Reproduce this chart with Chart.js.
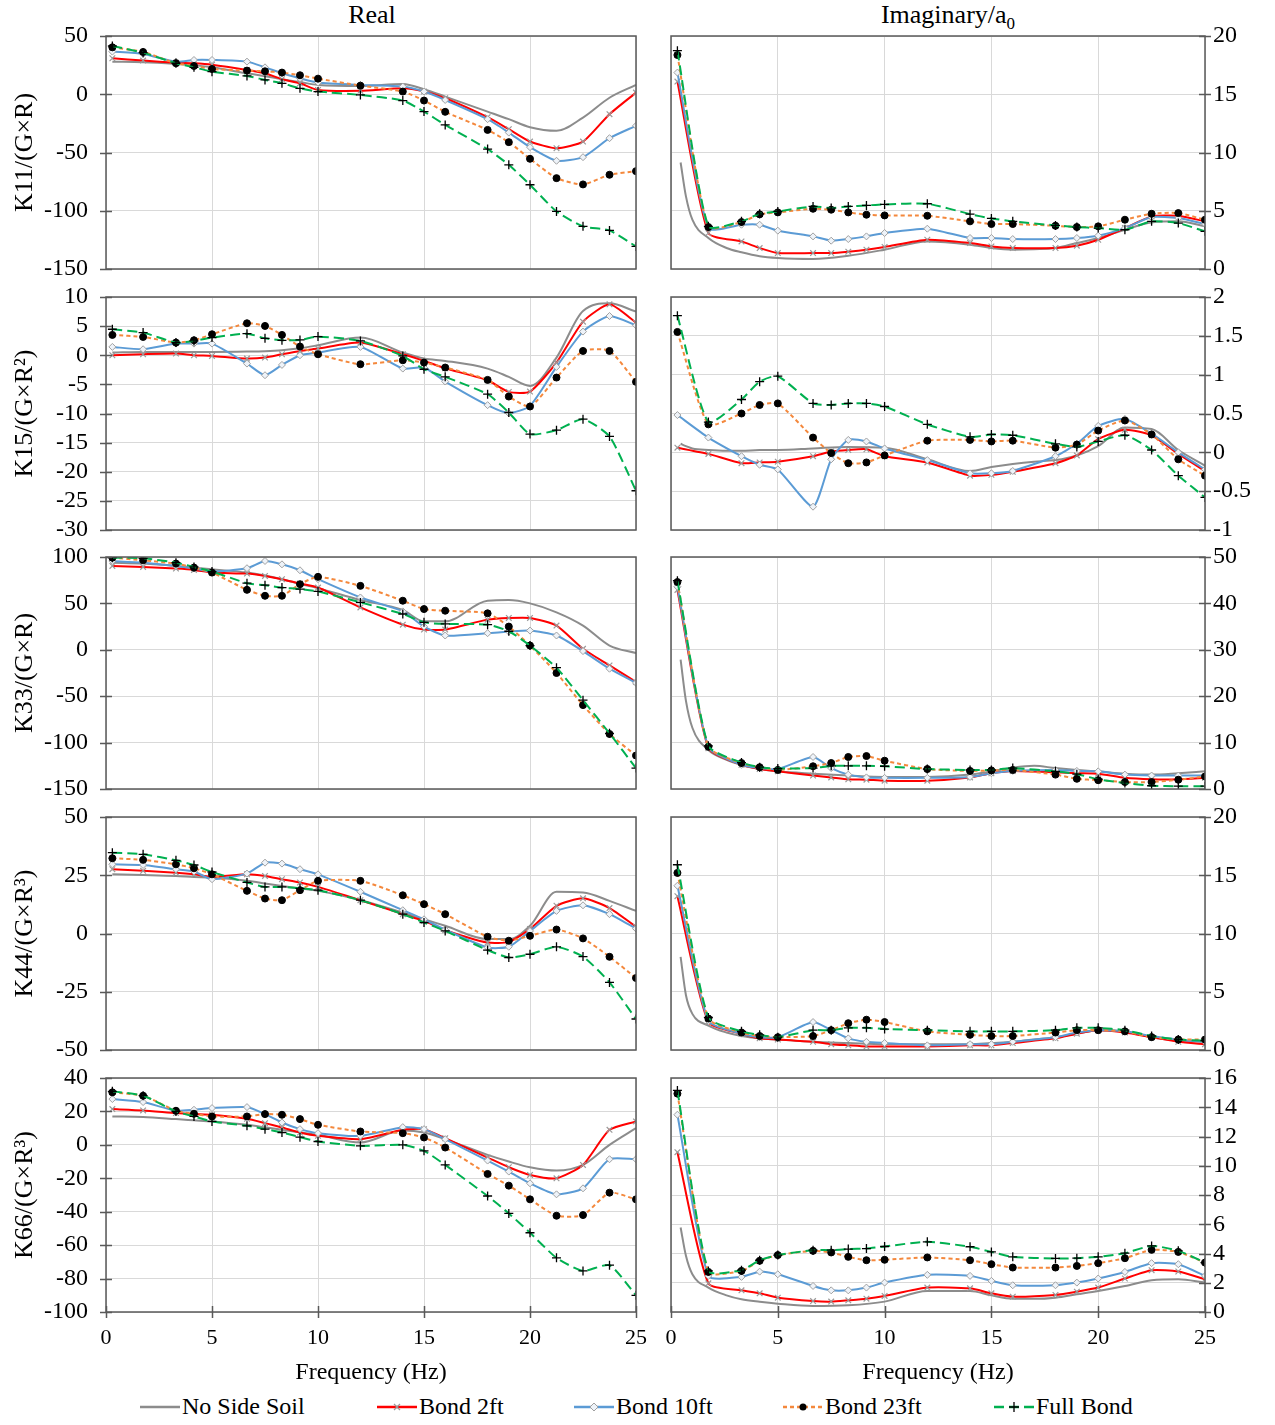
<!DOCTYPE html>
<html>
<head>
<meta charset="utf-8">
<script src="https://cdn.jsdelivr.net/npm/chart.js@4.4.1/dist/chart.umd.min.js"></script>
<style>
  body { margin: 0; background: #fff; }
  #page { position: relative; width: 1275px; height: 1425px; font-family: "Liberation Serif", "Times New Roman", serif; color: #000; }
  #page canvas { position: absolute; }
  .coltitle { position: absolute; top: 0px; font-size: 26px; transform: translateX(-50%); white-space: nowrap; }
  .coltitle sub { font-size: 17px; }
  .leg { position: absolute; top: 1393px; font-size: 24px; white-space: nowrap; display: flex; align-items: center; }
  .leg svg { margin-right: 2px; }
</style>
</head>
<body>
<div id="page">
  <div class="coltitle" style="left:372px">Real</div>
  <div class="coltitle" style="left:948px">Imaginary/a<sub>0</sub></div>

  <div class="leg" style="left:140px">
    <svg width="40" height="14"><line x1="0" y1="7" x2="40" y2="7" stroke="#8c8c8c" stroke-width="2.5"/></svg>No Side Soil
  </div>
  <div class="leg" style="left:377px">
    <svg width="40" height="14"><line x1="0" y1="7" x2="40" y2="7" stroke="#ff0000" stroke-width="2.5"/>
      <path d="M17 4 L23 10 M23 4 L17 10" stroke="#9a9a9a" stroke-width="1.2"/></svg>Bond 2ft
  </div>
  <div class="leg" style="left:574px">
    <svg width="40" height="14"><line x1="0" y1="7" x2="40" y2="7" stroke="#5b9bd5" stroke-width="2.5"/>
      <path d="M20 3 L24 7 L20 11 L16 7 Z" fill="#eef3f9" stroke="#a0a0a0" stroke-width="1"/></svg>Bond 10ft
  </div>
  <div class="leg" style="left:783px">
    <svg width="40" height="14"><line x1="0" y1="7" x2="40" y2="7" stroke="#f4883c" stroke-width="2.5" stroke-dasharray="4 3"/>
      <circle cx="20" cy="7" r="3.5" fill="#000"/></svg>Bond 23ft
  </div>
  <div class="leg" style="left:994px">
    <svg width="40" height="14"><line x1="0" y1="7" x2="40" y2="7" stroke="#00b050" stroke-width="2.5" stroke-dasharray="10 5"/>
      <path d="M20 2 L20 12 M15 7 L25 7" stroke="#000" stroke-width="1.3"/></svg>Full Bond
  </div>
</div>

<script>
// ---- frequencies (Hz) ----
const freq       = [0.3, 1.75, 3.3, 4.15, 5, 6.65, 7.5, 8.3, 9.15, 10, 12, 14, 15, 16, 18, 19, 20, 21.25, 22.5, 23.75, 25];
const freqSmooth = [0.45, 0.7, 1.0, 1.75, 2.6, 3.3, 4.15, 5, 6.65, 8.3, 10, 12, 14, 15, 16, 17, 18, 19, 20, 21.25, 22.5, 23.75, 25];

const seriesNames = ['No Side Soil', 'Bond 2ft', 'Bond 10ft', 'Bond 23ft', 'Full Bond'];

// ---- K11 ----
const k11ReNoSide = [28, 27.4, 26, 25, 23.1, 18, 15.5, 12.9, 10.5, 8, 7.1, 8.9, 4.3, -2, -14.9, -21.4, -28.3, -31.4, -20, -3, 8];
const k11ReBond2  = [30.9, 28.9, 27.1, 26.6, 25.4, 20.9, 18, 12.9, 9.4, 3.7, 2.9, 5.1, 2.3, -3.4, -19.7, -30, -40.6, -46.3, -40.6, -17.1, 1.4];
const k11ReBond10 = [36.6, 34.6, 28, 29.4, 29.4, 28, 23.1, 18, 13.7, 10, 8, 6.6, 2.3, -4.9, -21.4, -32.9, -45.4, -57.1, -54, -37.7, -27.1];
const k11ReBond23 = [40.3, 36.3, 26.6, 24.3, 21.7, 20.3, 19.7, 18.6, 16.3, 13.4, 7.4, 2.3, -5.4, -15.1, -30.6, -41.1, -55.4, -72, -77.4, -69.1, -66];
const k11ReFull   = [41.4, 35.7, 26.6, 23.1, 19.4, 15.7, 12.3, 9.4, 5.1, 2.3, -0.6, -5.4, -14.9, -26.3, -47.1, -60.6, -77.7, -100.6, -113.4, -116.9, -130.6];

const k11ImNoSide = [9.14, 6.23, 4.23, 2.66, 1.8, 1.43, 1.09, 0.94, 0.86, 1.14, 1.66, 2.37, 2.09, 1.8, 1.66, 1.7, 1.8, 2.23, 2.66, 3.37, 4.0, 4.09, 3.66];
const k11ImBond2  = [16.09, 3.09, 2.37, 1.8, 1.37, 1.37, 1.37, 1.49, 1.66, 1.89, 2.51, 2.23, 1.94, 1.8, 1.8, 2.0, 2.51, 3.51, 4.51, 4.57, 4.09];
const k11ImBond10 = [16.86, 3.51, 3.8, 3.8, 3.29, 2.8, 2.43, 2.57, 2.8, 3.09, 3.46, 2.66, 2.66, 2.57, 2.57, 2.66, 2.86, 3.51, 4.46, 4.37, 3.86];
const k11ImBond23 = [18.37, 3.6, 4.03, 4.69, 4.86, 5.17, 5.09, 4.86, 4.66, 4.6, 4.57, 4.09, 3.86, 3.86, 3.71, 3.6, 3.66, 4.23, 4.74, 4.8, 4.23];
const k11ImFull   = [18.74, 3.66, 4.09, 4.74, 4.94, 5.37, 5.23, 5.37, 5.46, 5.54, 5.6, 4.71, 4.34, 4.09, 3.74, 3.6, 3.51, 3.37, 4.09, 3.94, 3.23];

// ---- K15 ----
const k15ReNoSide = [0.46, 0.57, 0.57, 0.57, 0.57, 0.63, 0.7, 0.86, 1.2, 1.71, 3.03, 0.46, -0.57, -0.97, -2.29, -3.71, -5.26, -0.4, 7.6, 8.91, 7.49];
const k15ReBond2  = [0, 0.17, 0.29, 0, -0.11, -0.57, -0.4, 0.17, 0.74, 1.14, 2.17, 0.17, -0.97, -2.23, -4.29, -6.29, -6.23, -1.26, 5.77, 8.74, 5.6];
const k15ReBond10 = [1.43, 1.03, 2.0, 2.0, 2.0, -1.43, -3.43, -1.66, 0.0, 0.46, 1.43, -2.29, -2.11, -4.51, -8.57, -9.94, -8.69, -2.0, 4.06, 6.74, 5.14];
const k15ReBond23 = [3.49, 3.14, 2.17, 2.57, 3.6, 5.49, 5.03, 3.49, 1.49, 0.17, -1.54, -0.86, -1.26, -2.11, -4.23, -7.09, -8.8, -3.83, 0.74, 0.74, -4.57];
const k15ReFull   = [4.46, 3.89, 2.17, 2.46, 3.03, 3.71, 2.91, 2.57, 2.63, 3.2, 2.46, -0.11, -2.4, -3.71, -6.69, -9.83, -13.54, -12.86, -10.97, -13.94, -23.26];

const k15ImNoSide = [0.11, 0.08, 0.05, 0.03, 0.02, 0.02, 0.03, 0.03, 0.05, 0.07, 0.06, -0.09, -0.24, -0.19, -0.15, -0.12, -0.1, -0.04, 0.08, 0.32, 0.3, 0.03, -0.17];
const k15ImBond2  = [0.06, -0.02, -0.14, -0.13, -0.12, -0.05, 0.01, 0.03, 0.04, -0.05, -0.13, -0.3, -0.29, -0.25, -0.14, -0.04, 0.17, 0.29, 0.22, -0.02, -0.24];
const k15ImBond10 = [0.48, 0.19, -0.05, -0.16, -0.22, -0.7, -0.09, 0.16, 0.14, 0.05, -0.1, -0.27, -0.27, -0.24, -0.05, 0.11, 0.34, 0.43, 0.24, 0.0, -0.22];
const k15ImBond23 = [1.55, 0.36, 0.5, 0.61, 0.63, 0.19, -0.01, -0.14, -0.13, -0.04, 0.15, 0.16, 0.14, 0.15, 0.06, 0.1, 0.28, 0.41, 0.23, -0.09, -0.3];
const k15ImFull   = [1.76, 0.39, 0.68, 0.91, 0.98, 0.63, 0.61, 0.63, 0.63, 0.59, 0.36, 0.2, 0.23, 0.22, 0.11, 0.07, 0.14, 0.22, 0.03, -0.3, -0.58];

// ---- K33 ----
const k33ReNoSide = [93.9, 92.9, 90.4, 88.5, 86.8, 83.2, 80, 76.1, 71, 66.4, 53.6, 42.9, 30.7, 30.7, 52.9, 53.6, 50, 40.4, 26.1, 4.6, -3.6];
const k33ReBond2  = [90.4, 89.3, 87.5, 86.1, 83.2, 82.1, 79.6, 76.1, 71.4, 67.1, 45.7, 27.1, 21.8, 21.8, 32.5, 34.3, 34.3, 26.1, 1.1, -16.8, -34.6];
const k33ReBond10 = [95.7, 93.9, 90.4, 87.9, 84.3, 87.9, 95.7, 92.1, 85.7, 76.1, 56.4, 41.4, 25, 15.4, 17.9, 19.6, 20.7, 15.4, -1.4, -20.4, -35.7];
const k33ReBond23 = [99.3, 96.4, 92.9, 88.6, 83.2, 64.6, 58.2, 58.2, 70.7, 78.6, 68.9, 52.9, 43.9, 42.1, 39.3, 25, 4.6, -25, -59.6, -90.7, -113.9];
const k33ReFull   = [99.3, 98.6, 93.9, 89.3, 84.3, 71.8, 69.6, 67.1, 65.4, 62.9, 51.1, 38.6, 29.6, 27.9, 27.1, 20, 4.6, -19.3, -54.3, -90, -127.5];

const k33ImNoSide = [27.9, 19.0, 13.2, 8.4, 6.3, 5.2, 4.3, 3.8, 3.3, 2.9, 2.6, 2.6, 3.1, 3.8, 4.6, 5.0, 4.5, 4.1, 3.8, 3.3, 3.1, 3.4, 3.8];
const k33ImBond2  = [42.9, 8.8, 5.2, 4.3, 3.8, 2.9, 2.5, 2.1, 2.0, 1.8, 1.8, 2.5, 3.4, 3.9, 3.6, 3.4, 3.3, 2.4, 2.1, 2.1, 2.4];
const k33ImBond10 = [43.6, 9.0, 5.2, 4.5, 4.3, 6.9, 4.5, 3.1, 2.5, 2.4, 2.4, 2.6, 3.4, 3.9, 4.1, 3.9, 3.8, 3.1, 2.9, 2.9, 2.9];
const k33ImBond23 = [44.6, 9.1, 5.6, 4.7, 4.1, 4.9, 5.6, 6.9, 7.1, 6.1, 4.3, 3.9, 4.0, 4.1, 3.1, 2.2, 1.9, 1.5, 1.5, 2.0, 2.7];
const k33ImFull   = [44.9, 9.3, 5.7, 4.7, 4.4, 4.5, 5.0, 5.0, 5.0, 4.9, 4.3, 4.1, 4.1, 4.5, 3.8, 3.2, 2.1, 1.3, 0.7, 0.6, 0.6];

// ---- K44 ----
const k44ReNoSide = [25.4, 25.1, 24.7, 24.3, 24.0, 22.6, 21.5, 20.4, 19.3, 18.3, 14.3, 9.0, 6.1, 3.3, -2.4, -2.4, 3.3, 17.9, 17.6, 14.0, 9.7];
const k44ReBond2  = [27.6, 26.9, 26.1, 25.4, 24.3, 25.4, 24.7, 23.3, 21.9, 20, 14.3, 8.3, 5.4, 1.4, -3.9, -3.6, 1.9, 11.9, 15.1, 10.9, 2.9];
const k44ReBond10 = [29.7, 29.4, 27.6, 26.6, 23.3, 25.7, 30.4, 30, 27.6, 25.4, 17.9, 10, 6.1, 1.6, -6, -5.7, 1.1, 9.7, 12.1, 8.3, 2.1];
const k44ReBond23 = [32.3, 31.6, 29.7, 28, 25.4, 18.3, 15, 14.3, 18.6, 22.6, 22.6, 16.4, 12.6, 8.3, -1.4, -3.1, -1, 1.7, -2.1, -10, -19.1];
const k44ReFull   = [34.7, 34, 31.4, 29.4, 26.4, 21.9, 20, 20, 19.4, 18.6, 14.3, 8.3, 4.7, 1.1, -7.1, -10.3, -8.9, -5.7, -9.9, -21, -36.7];

const k44ImNoSide = [8.0, 4.7, 3.1, 2.1, 1.5, 1.2, 1.0, 0.9, 0.7, 0.6, 0.5, 0.5, 0.5, 0.6, 0.7, 0.9, 1.1, 1.4, 1.7, 1.6, 1.1, 0.8, 0.7];
const k44ImBond2  = [13.2, 2.4, 1.4, 1.0, 0.9, 0.7, 0.5, 0.4, 0.3, 0.3, 0.3, 0.4, 0.4, 0.6, 1.0, 1.4, 1.7, 1.5, 1.1, 0.7, 0.5];
const k44ImBond10 = [14.1, 2.5, 1.4, 1.1, 1.1, 2.4, 1.7, 1.0, 0.7, 0.6, 0.4, 0.5, 0.5, 0.7, 1.1, 1.5, 1.7, 1.6, 1.2, 0.9, 0.7];
const k44ImBond23 = [15.2, 2.7, 1.5, 1.2, 1.1, 1.2, 1.7, 2.3, 2.6, 2.4, 1.6, 1.3, 1.2, 1.2, 1.5, 1.7, 1.7, 1.6, 1.1, 0.9, 0.9];
const k44ImFull   = [15.9, 2.8, 1.6, 1.3, 1.1, 1.7, 1.7, 1.9, 1.9, 1.8, 1.7, 1.6, 1.6, 1.6, 1.7, 1.9, 1.9, 1.7, 1.2, 0.9, 0.8];

// ---- K66 ----
const k66ReNoSide = [17, 16.6, 15.4, 14.7, 14, 12, 10.5, 9, 7.5, 6, 1.4, 8.6, 7.4, 3.4, -6, -10, -13.4, -15.4, -12, 0, 10];
const k66ReBond2  = [21.4, 20.6, 19, 18.4, 18, 15.6, 13, 10.4, 7.4, 5.4, 3.4, 9, 9.4, 4, -7.6, -13.4, -18, -20, -12, 9, 14];
const k66ReBond10 = [27.4, 25.6, 20.4, 21, 22, 22.6, 18.4, 13.4, 9.4, 7, 5.4, 10.6, 9.4, 3.4, -9.4, -16, -23, -29.6, -26, -8.6, -8.6];
const k66ReBond23 = [31.4, 29.4, 20.4, 18.6, 17, 17, 18.4, 18, 15.4, 12, 8, 7, 4.4, -1.6, -17.4, -24.4, -32.6, -42.4, -42, -28.6, -32.6];
const k66ReFull   = [32, 29.4, 20, 17, 14, 11.4, 9.4, 7.4, 4.6, 2, -0.6, 0, -3.6, -12, -30.6, -41, -52.6, -67.6, -75.4, -72, -90];

const k66ImNoSide = [5.78, 3.84, 2.58, 1.67, 1.14, 0.87, 0.7, 0.57, 0.41, 0.46, 0.71, 1.44, 1.44, 1.14, 0.91, 0.9, 0.98, 1.21, 1.44, 1.78, 2.17, 2.24, 2.01];
const k66ImBond2  = [10.93, 1.96, 1.48, 1.28, 0.98, 0.75, 0.71, 0.8, 0.91, 1.1, 1.67, 1.62, 1.28, 1.05, 1.17, 1.39, 1.67, 2.29, 2.86, 2.77, 2.24];
const k66ImBond10 = [13.49, 2.47, 2.4, 2.76, 2.58, 1.78, 1.48, 1.48, 1.67, 2.01, 2.54, 2.47, 2.13, 1.83, 1.83, 2.01, 2.29, 2.74, 3.34, 3.27, 2.47];
const k66ImBond23 = [14.93, 2.74, 2.81, 3.5, 3.89, 4.18, 4.07, 3.77, 3.54, 3.57, 3.73, 3.54, 3.27, 3.04, 3.04, 3.15, 3.34, 3.68, 4.25, 4.11, 3.38];
const k66ImFull   = [15.15, 2.81, 2.86, 3.54, 3.89, 4.23, 4.23, 4.3, 4.34, 4.48, 4.8, 4.46, 4.11, 3.77, 3.66, 3.68, 3.77, 4.02, 4.52, 4.18, 3.38];

// ---- axis settings per panel ----
const realTitles = ['K11/(G×R)', 'K15/(G×R²)', 'K33/(G×R)', 'K44/(G×R³)', 'K66/(G×R³)'];
const realRanges = [[-150, 50, 50], [-30, 10, 5], [-150, 100, 50], [-50, 50, 25], [-100, 40, 20]];
const imagRanges = [[0, 20, 5], [-1, 2, 0.5], [0, 50, 10], [0, 20, 5], [0, 16, 2]];

const realData = [
    [k11ReNoSide, k11ReBond2, k11ReBond10, k11ReBond23, k11ReFull],
    [k15ReNoSide, k15ReBond2, k15ReBond10, k15ReBond23, k15ReFull],
    [k33ReNoSide, k33ReBond2, k33ReBond10, k33ReBond23, k33ReFull],
    [k44ReNoSide, k44ReBond2, k44ReBond10, k44ReBond23, k44ReFull],
    [k66ReNoSide, k66ReBond2, k66ReBond10, k66ReBond23, k66ReFull],
];
const imagData = [
    [k11ImNoSide, k11ImBond2, k11ImBond10, k11ImBond23, k11ImFull],
    [k15ImNoSide, k15ImBond2, k15ImBond10, k15ImBond23, k15ImFull],
    [k33ImNoSide, k33ImBond2, k33ImBond10, k33ImBond23, k33ImFull],
    [k44ImNoSide, k44ImBond2, k44ImBond10, k44ImBond23, k44ImFull],
    [k66ImNoSide, k66ImBond2, k66ImBond10, k66ImBond23, k66ImFull],
];

// ---- layout (pixels) ----
const rowTop    = [36, 297, 557, 817, 1078];
const rowBottom = [269, 530, 789, 1050, 1312];
const PAD_T = 16;
const PAD_SIDE = 30;

const FONT = "'Liberation Serif', 'Times New Roman', serif";
const GRID = '#d9d9d9';
const FRAME = '#595959';

const lineStyles = [
    { color: '#8c8c8c', dash: [],      point: 'circle',   r: 0,   pBorder: '#8c8c8c', pFill: '#8c8c8c', pw: 1 },
    { color: '#ff0000', dash: [],      point: 'crossRot', r: 4,   pBorder: '#9a9a9a', pFill: '#9a9a9a', pw: 1.2 },
    { color: '#5b9bd5', dash: [],      point: 'rectRot',  r: 3.5, pBorder: '#a0a0a0', pFill: '#eef3f9', pw: 1 },
    { color: '#f4883c', dash: [4, 3],  point: 'circle',   r: 3.5, pBorder: '#000',    pFill: '#000',    pw: 1 },
    { color: '#00b050', dash: [10, 5], point: 'cross',    r: 4.5, pBorder: '#000',    pFill: '#000',    pw: 1.3 },
];

// frame + crossing tick marks
const framePlugin = {
    id: 'frame',
    afterDraw(chart, args, opts) {
        const { ctx, chartArea: a, scales } = chart;
        ctx.save();
        ctx.strokeStyle = FRAME;
        ctx.lineWidth = 1.5;
        ctx.strokeRect(a.left, a.top, a.right - a.left, a.bottom - a.top);
        ctx.beginPath();
        const ax = opts.side === 'left' ? a.left : a.right;
        scales.y.ticks.forEach(t => {
            const py = Math.round(scales.y.getPixelForValue(t.value)) + 0.5;
            ctx.moveTo(ax - 6, py); ctx.lineTo(ax + 6, py);
        });
        if (opts.bottom) {
            scales.x.ticks.forEach(t => {
                const px = Math.round(scales.x.getPixelForValue(t.value)) + 0.5;
                ctx.moveTo(px, a.bottom - 6); ctx.lineTo(px, a.bottom + 6);
            });
        }
        ctx.stroke();
        ctx.restore();
    }
};

function makeDatasets(series, smoothGray) {
    return series.map((ys, i) => {
        const xs = (i === 0 && smoothGray) ? freqSmooth : freq;
        const s = lineStyles[i];
        return {
            label: seriesNames[i],
            data: xs.map((x, k) => ({ x: x, y: ys[k] })),
            borderColor: s.color,
            borderWidth: 2,
            borderDash: s.dash,
            pointStyle: s.point,
            pointRadius: s.r,
            pointBorderColor: s.pBorder,
            pointBackgroundColor: s.pFill,
            pointBorderWidth: s.pw,
            tension: 0.2,
            cubicInterpolationMode: i === 0 ? 'monotone' : 'default',
            order: 4 - i,
            fill: false,
        };
    });
}

function makePanel(side, row, series, range, title) {
    const bottom = row === 4;
    const xH = bottom ? 80 : 16;
    const yW = side === 'left' ? 106 : 70;
    const padL = side === 'left' ? 0 : PAD_SIDE;
    const padR = side === 'left' ? PAD_SIDE : 0;
    const plotW = side === 'left' ? 530 : 534;
    const plotH = rowBottom[row] - rowTop[row];

    const cv = document.createElement('canvas');
    cv.width = padL + yW + plotW + padR;
    cv.height = PAD_T + plotH + xH;
    cv.style.left = (side === 'left' ? 0 : 671 - PAD_SIDE) + 'px';
    cv.style.top = (rowTop[row] - PAD_T) + 'px';
    document.getElementById('page').appendChild(cv);

    new Chart(cv.getContext('2d'), {
        type: 'line',
        data: { datasets: makeDatasets(series, side === 'right') },
        options: {
            responsive: false,
            animation: false,
            events: [],
            layout: { padding: { left: padL, right: padR, top: PAD_T, bottom: 0 } },
            plugins: {
                legend: { display: false },
                tooltip: { enabled: false },
                frame: { side: side, bottom: bottom },
            },
            scales: {
                x: {
                    type: 'linear',
                    min: 0, max: 25,
                    ticks: { stepSize: 5, display: bottom, padding: 0, autoSkip: false, color: '#000', font: { family: FONT, size: 22 }, maxRotation: 0 },
                    grid: { color: GRID, drawTicks: bottom, tickLength: 13, tickColor: 'rgba(0,0,0,0)' },
                    border: { display: false },
                    title: { display: bottom, text: 'Frequency (Hz)', color: '#000', font: { family: FONT, size: 24 }, padding: { top: 0, bottom: 5 } },
                    afterFit: s => { s.height = xH; },
                },
                y: {
                    position: side,
                    min: range[0], max: range[1],
                    ticks: { stepSize: range[2], padding: 0, autoSkip: false, color: '#000', font: { family: FONT, size: 24 }, callback: v => String(v) },
                    grid: { color: GRID, drawTicks: true, tickLength: side === 'left' ? 18 : 8, tickColor: 'rgba(0,0,0,0)' },
                    border: { display: false },
                    title: { display: !!title, text: title || '', color: '#000', font: { family: FONT, size: 26 }, padding: { top: 10, bottom: 0 } },
                    afterFit: s => { s.width = yW; },
                },
            },
        },
        plugins: [framePlugin],
    });
}

for (let r = 0; r < 5; r++) {
    makePanel('left', r, realData[r], realRanges[r], realTitles[r]);
    makePanel('right', r, imagData[r], imagRanges[r], null);
}
</script>
</body>
</html>
